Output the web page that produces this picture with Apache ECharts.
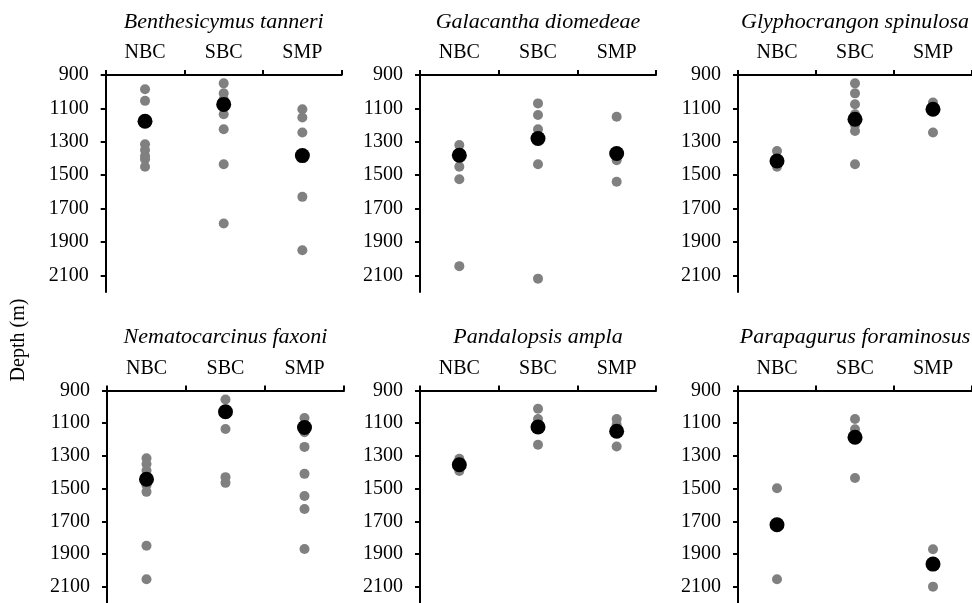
<!DOCTYPE html>
<html><head><meta charset="utf-8">
<script src="https://cdn.jsdelivr.net/npm/echarts@6/dist/echarts.min.js"></script>
<style>html,body{margin:0;padding:0;background:#fff}#c{width:972px;height:603px}</style>
</head><body><div id="c"></div>
<script>
const categories = ['NBC', 'SBC', 'SMP'];
const depthTicks = [900, 1100, 1300, 1500, 1700, 1900, 2100];
const speciesNames = ['Benthesicymus tanneri', 'Galacantha diomedeae', 'Glyphocrangon spinulosa',
  'Nematocarcinus faxoni', 'Pandalopsis ampla', 'Parapagurus foraminosus'];

// individual depths (gray), per site NBC / SBC / SMP
const benthesicymusDepths = [[985, 1055, 1315, 1350, 1385, 1405, 1450], [950, 1010, 1045, 1135, 1225, 1435, 1790], [1105, 1155, 1245, 1380, 1630, 1950]];
const galacanthaDepths = [[1320, 1365, 1400, 1450, 1525, 2045], [1070, 1140, 1225, 1265, 1435, 2120], [1150, 1370, 1410, 1540]];
const glyphocrangonDepths = [[1355, 1420, 1450], [950, 1010, 1075, 1135, 1200, 1235, 1435], [1065, 1110, 1245]];
const nematocarcinusDepths = [[1315, 1350, 1390, 1430, 1480, 1520, 1850, 2055], [955, 1030, 1135, 1430, 1465], [1068, 1110, 1155, 1245, 1410, 1545, 1625, 1870]];
const pandalopsisDepths = [[1318, 1355, 1393], [1012, 1074, 1123, 1232], [1074, 1110, 1243]];
const parapagurusDepths = [[1498, 2055], [1074, 1137, 1435], [1871, 2100]];

// mean depths (black)
const benthesicymusMean = [1177, 1076, 1383];
const galacanthaMean = [1381, 1280, 1370];
const glyphocrangonMean = [1415, 1165, 1105];
const nematocarcinusMean = [1443, 1030, 1126];
const pandalopsisMean = [1354, 1123, 1149];
const parapagurusMean = [1721, 1186, 1962];

const allDepths = [benthesicymusDepths, galacanthaDepths, glyphocrangonDepths, nematocarcinusDepths, pandalopsisDepths, parapagurusDepths];
const allMeans = [benthesicymusMean, galacanthaMean, glyphocrangonMean, nematocarcinusMean, pandalopsisMean, parapagurusMean];

const FONT = 'Liberation Serif';
const layout = [
  {left: 105.7, top: 75, width: 236},
  {left: 420, top: 75, width: 236},
  {left: 738, top: 75, width: 234},
  {left: 107, top: 390.5, width: 237},
  {left: 420, top: 390.5, width: 236},
  {left: 738, top: 390.5, width: 234}
];
const H = 217;

const grid = [], xAxis = [], yAxis = [], series = [], title = [];
layout.forEach((g, i) => {
  grid.push({left: g.left, top: g.top, width: g.width, height: H});
  title.push({
    text: speciesNames[i], left: g.left + g.width / 2, top: g.top - 64, textAlign: 'center', padding: 0,
    textStyle: {fontFamily: FONT, fontStyle: 'italic', fontWeight: 'normal', fontSize: 22, color: '#000'}
  });
  xAxis.push({
    type: 'category', gridIndex: i, position: 'top', data: categories, boundaryGap: true,
    axisLine: {show: true, onZero: false, lineStyle: {color: '#000', width: 2}},
    axisTick: {show: true, length: 5, lineStyle: {color: '#000', width: 2}},
    axisLabel: {fontFamily: FONT, fontSize: 20, color: '#000', margin: 12},
    splitLine: {show: false}
  });
  yAxis.push({
    type: 'value', gridIndex: i, inverse: true, min: 900, max: 2200,
    axisLine: {show: true, onZero: false, lineStyle: {color: '#000', width: 2}},
    axisTick: {show: true, length: 5, customValues: depthTicks, lineStyle: {color: '#000', width: 2}},
    axisLabel: {fontFamily: FONT, fontSize: 20, color: '#000', margin: 17, customValues: depthTicks,
      formatter: v => String(v)},
    splitLine: {show: false}
  });
  const pts = [];
  allDepths[i].forEach((arr, c) => arr.forEach(v => pts.push([categories[c], v])));
  series.push({
    type: 'scatter', xAxisIndex: i, yAxisIndex: i, data: pts, symbolSize: 10,
    itemStyle: {color: '#808080', opacity: 1}, z: 2, silent: true
  });
  series.push({
    type: 'scatter', xAxisIndex: i, yAxisIndex: i,
    data: allMeans[i].map((v, c) => [categories[c], v]), symbolSize: 15,
    itemStyle: {color: '#000', opacity: 1}, z: 3, silent: true
  });
});

const chart = echarts.init(document.getElementById('c'), null, {renderer: 'canvas'});
chart.setOption({
  animation: false,
  backgroundColor: '#fff',
  title, grid, xAxis, yAxis, series,
  graphic: [{
    type: 'text', x: 19, y: 340, rotation: Math.PI / 2,
    style: {text: 'Depth (m)', font: '20px "Liberation Serif"', textAlign: 'center', textVerticalAlign: 'middle', fill: '#000'}
  }]
});
</script>
</body></html>
